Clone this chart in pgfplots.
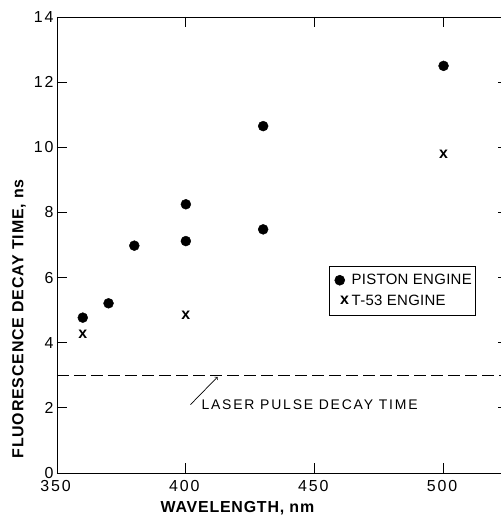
\documentclass[border=0pt]{standalone}
\usepackage{fontspec}
\setmainfont{Liberation Sans}
\newfontfamily\labfont[LetterSpace=5]{Liberation Sans}
\newfontfamily\tickfont[LetterSpace=12]{Liberation Sans}
\newfontfamily\annfont[LetterSpace=13]{Liberation Sans}
\newfontfamily\legfont[LetterSpace=2]{Liberation Sans}
\usepackage{pgfplots}
\pgfplotsset{compat=1.18}
\begin{document}
\begin{tikzpicture}
\begin{axis}[
  scale only axis,
  width=451bp, height=456bp,
  xmin=350, xmax=525, ymin=0, ymax=14,
  xtick={350,400,450,500}, ytick={0,2,4,6,8,10,12,14},
  minor tick num=0,
  tick align=inside,
  major tick length=10bp,
  axis line style={line width=0.9pt},
  every tick/.style={black, line width=0.8pt},
  /pgf/number format/assume math mode=true,
  tick label style={font=\tickfont\fontsize{16}{16}\selectfont},
  xticklabel style={yshift=-4bp, xshift=-1.5bp},
  xlabel={\labfont\bfseries WAVELENGTH, nm},
  ylabel={\labfont\bfseries FLUORESCENCE DECAY TIME, ns},
  xlabel style={font=\fontsize{16}{16}\selectfont, at={(axis description cs:0.400,-0.077)}, anchor=center},
  ylabel style={font=\fontsize{16}{16}\selectfont, at={(axis description cs:-0.084,0.338)}, anchor=center},
  legend style={at={(axis description cs:0.603,0.454)}, anchor=north west,
    draw=black, line width=0.6pt, font=\legfont\fontsize{15}{17}\selectfont,
    inner xsep=2bp, inner ysep=6bp, row sep=5bp},
  legend cell align=left,
  legend image code/.code={\path[draw=none] (0cm,0cm) -- (0.65cm,0cm);\draw[mark repeat=2,mark phase=2,#1] plot coordinates {(0cm,0cm)(0.3cm,0cm)(0.6cm,0cm)};},
]
\addplot[only marks, mark=*, mark size=5pt, black]
  coordinates {(360,4.77) (370,5.21) (380,6.98) (400,8.25) (400,7.12) (430,10.65) (430,7.48) (500,12.5)};
\addlegendentry{PISTON ENGINE}
\addplot[only marks, mark=text, text mark={\bfseries x}, text mark as node=true,
  text mark style={font=\fontsize{16}{16}\selectfont, inner sep=0pt}, black]
  coordinates {(360,4.27) (400,4.85) (500,9.78)};
\addlegendentry{T-53 ENGINE}
\addplot[black, line width=0.8pt, dash pattern=on 12bp off 5bp, forget plot] coordinates {(350,3) (525,3)};
\draw[->, line width=0.7pt] (axis cs:401.8,2.1) -- (axis cs:412.3,2.95);
\node[anchor=west, inner sep=0pt, font=\fontsize{14}{14}\selectfont] at (axis cs:406,2.09) {\annfont LASER PULSE DECAY TIME};
\coordinate (BL) at (rel axis cs:0,0);
\end{axis}
\pgfresetboundingbox
\path[use as bounding box] ([shift={(-57bp,-43bp)}]BL) rectangle ([shift={(444bp,473bp)}]BL);
\end{tikzpicture}
\end{document}
